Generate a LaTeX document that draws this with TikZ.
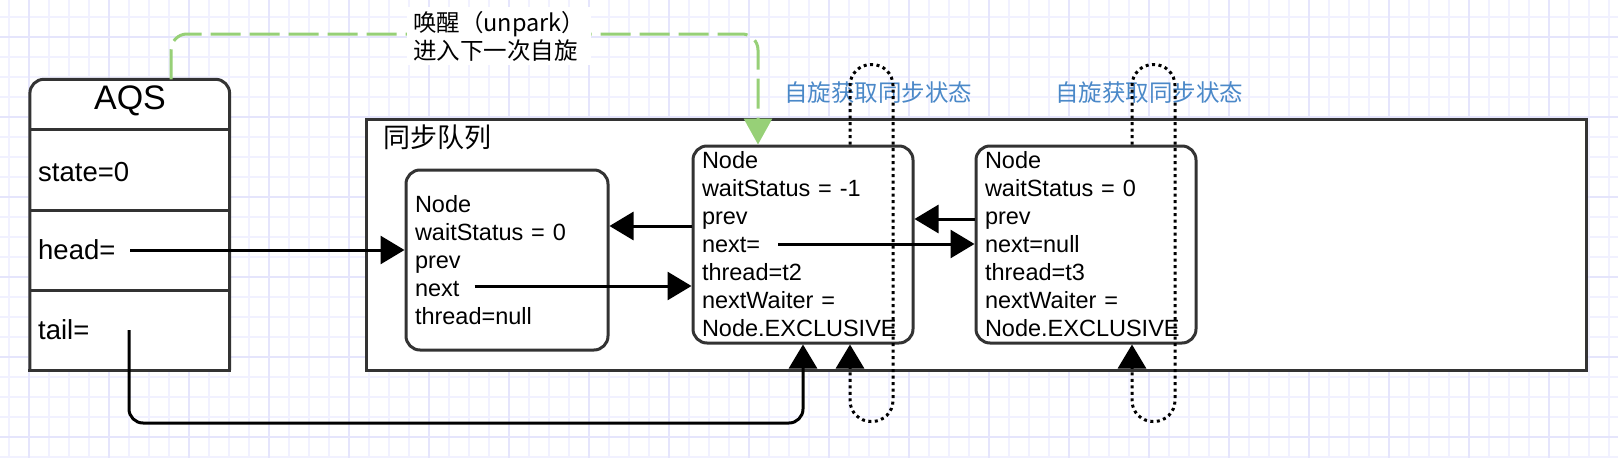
\documentclass[tikz,border=0pt]{standalone}
\usepackage{fontspec}
\setmainfont{Liberation Sans}
\newfontfamily\cjkfont{Noto Sans CJK SC}
\usetikzlibrary{arrows.meta}
\definecolor{gridminor}{RGB}{241,241,255}
\definecolor{gridmajor}{RGB}{229,229,252}
\definecolor{boxedge}{RGB}{51,51,51}
\definecolor{spinblue}{RGB}{74,136,200}
\definecolor{wakegreen}{RGB}{151,208,119}
\begin{document}
\begin{tikzpicture}[x=1pt,y=-1pt,
  boxline/.style={draw=boxedge,line width=3pt},
  qnode/.style={boxline,fill=white,rounded corners=14pt,align=left,inner xsep=9pt,inner ysep=0pt,font=\fontsize{23.5pt}{28pt}\selectfont},
  field/.style={anchor=west,inner sep=0pt,font=\fontsize{27.5pt}{33pt}\selectfont},
  arr/.style={draw=black,line width=3pt,-{Triangle[length=24pt,width=28pt]}},
  spin/.style={draw=black,line width=3pt,dash pattern=on 3pt off 3.5pt,rounded corners=21pt,-{Triangle[length=24pt,width=28pt]}},
  wake/.style={draw=wakegreen,line width=3pt,dash pattern=on 30pt off 9pt,rounded corners=16pt,-{Triangle[length=26pt,width=28pt]}},
  spinlabel/.style={anchor=west,inner sep=0pt,text=spinblue,font=\cjkfont\fontsize{23.5pt}{28pt}\selectfont},
]
\useasboundingbox (0,0) rectangle (1618,458);
\fill[white] (0,0) rectangle (1618,458);
% background grid
\foreach \gx in {9,29,...,1609} \draw[gridminor,line width=2pt] (\gx,0) -- (\gx,458);
\foreach \gy in {16.7,36.7,...,456.7} \draw[gridminor,line width=2pt] (0,\gy) -- (1618,\gy);
\foreach \gx in {29,109,...,1549} \draw[gridmajor,line width=2pt] (\gx,0) -- (\gx,458);
\foreach \gy in {36.7,116.7,...,436.7} \draw[gridmajor,line width=2pt] (0,\gy) -- (1618,\gy);

% blue labels
\node[spinlabel] (spin1) at (784,93) {自旋获取同步状态};
\node[spinlabel] (spin2) at (1055,93) {自旋获取同步状态};

% sync queue container
\node[boxline,fill=white,minimum width=1220pt,minimum height=251pt,inner sep=0pt] (queue) at (976,244.6) {};
\node[anchor=west,inner sep=0pt,font=\cjkfont\fontsize{27pt}{32pt}\selectfont] (qlabel) at (383,137) {同步队列};

% AQS box
\node[inner sep=0pt,outer sep=0pt,minimum width=199.7pt,minimum height=290.7pt] (aqs) at (129.75,224.65) {};
\draw[boxline,fill=white,rounded corners=14pt] (aqs.south west) -- (aqs.north west) -- (aqs.north east) -- (aqs.south east);
\draw[boxline,line cap=rect] (aqs.south west) -- (aqs.south east);
\draw[boxline] (aqs.west |- 0,129) -- (aqs.east |- 0,129);
\draw[boxline] (aqs.west |- 0,210) -- (aqs.east |- 0,210);
\draw[boxline] (aqs.west |- 0,290) -- (aqs.east |- 0,290);
\node[inner sep=0pt,font=\fontsize{34pt}{40pt}\selectfont] (aqstitle) at (130,100.5) {AQS};
\node[field] (state) at (38,172) {state=0};
\node[field] (head) at (38,250) {head=};
\node[field] (tail) at (38,330) {tail=};
\coordinate (headp) at (130,250);
\coordinate (tailp) at (129,330);
\coordinate (tailturn) at (803,423);

% queue nodes
\node[qnode,minimum width=202pt,minimum height=180pt,text width=184pt] (n1) at (507,260)
  {Node\\waitStatus = 0\\prev\\next\\thread=null};
\node[qnode,minimum width=220pt,minimum height=197pt,text width=202pt] (n2) at (803,244.5)
  {Node\\waitStatus = -1\\prev\\next=\\thread=t2\\nextWaiter =\\Node.EXCLUSIVE};
\node[qnode,minimum width=220pt,minimum height=197pt,text width=202pt] (n3) at (1086,244.5)
  {Node\\waitStatus = 0\\prev\\next=null\\thread=t3\\nextWaiter =\\Node.EXCLUSIVE};

% pointers
\coordinate (n1nx) at (474.5,286);
\coordinate (n2nx) at (778,244);
\draw[arr] (headp) -- (headp -| n1.west);
\draw[arr] (n1nx) -- (n1nx -| n2.west);
\draw[arr] (n2.west |- 0,226) -- (n1.east |- 0,226);
\draw[arr] (n2nx) -- (n2nx -| n3.west);
\draw[arr] (n3.west |- 0,219) -- (n2.east |- 0,219);
\draw[arr,rounded corners=14pt] (tailp) |- (tailturn) -- (n2.south);

% spin loops
\coordinate (s1a) at (850,64.5);
\coordinate (s1b) at (893,421.5);
\coordinate (s2a) at (1132,64.5);
\coordinate (s2b) at (1175,421.5);
\draw[spin] (s1a |- n2.north) -- (s1a) -- (s1b |- s1a) -- (s1b) -- (s1a |- s1b) -- (s1a |- n2.south);
\draw[spin] (s2a |- n3.north) -- (s2a) -- (s2b |- s2a) -- (s2b) -- (s2a |- s2b) -- (s2a |- n3.south);

% wake-up edge
\coordinate (w1) at (171,34);
\coordinate (w2) at (758,34);
\draw[wake] (w1 |- aqs.north) -- (w1) -- (w2) -- (w2 |- n2.north);
\node[anchor=west,fill=white,inner xsep=6pt,inner ysep=4pt,align=left,font=\cjkfont\fontsize{23.5pt}{28pt}\selectfont] (wakelabel) at (407,36) {唤醒（unpark）\\进入下一次自旋};
\end{tikzpicture}
\end{document}
